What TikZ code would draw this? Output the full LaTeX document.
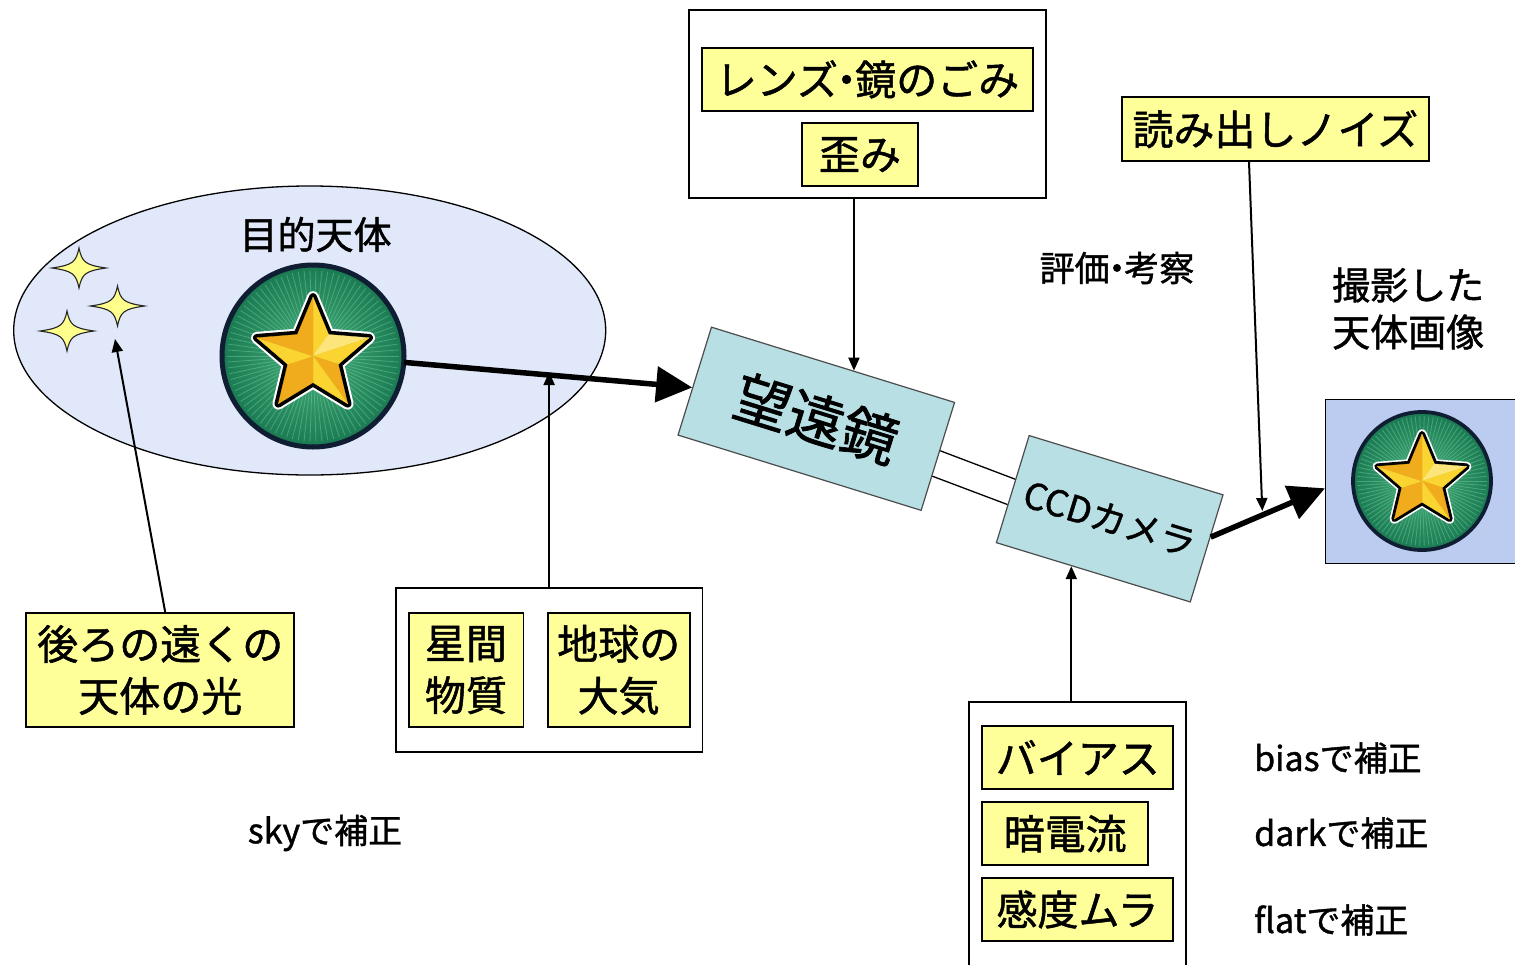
\documentclass[tikz,border=0pt]{standalone}
\usepackage{fontspec}
\setmainfont{Noto Sans CJK JP}[FakeBold=1.2]
\usetikzlibrary{arrows.meta,calc,shapes.geometric}

\definecolor{paleyellow}{RGB}{255,255,153}
\definecolor{scopecyan}{RGB}{183,223,228}
\definecolor{skyfill}{RGB}{224,232,249}
\definecolor{imgfill}{RGB}{188,203,240}
\definecolor{medLight}{RGB}{70,176,124}
\definecolor{medDark}{RGB}{26,122,82}
\definecolor{medRay}{RGB}{120,205,160}
\definecolor{medRim}{RGB}{16,30,52}
\definecolor{starA}{RGB}{250,212,48}
\definecolor{starB}{RGB}{240,172,28}
\definecolor{starC}{RGB}{252,230,124}
\definecolor{sparkle}{RGB}{255,255,140}

% narrow middle dot
\newcommand\nakaguro{\makebox[0.42em]{・}}

\tikzset{
  starshape/.style 2 args={insert path={(-90:#1) -- (-54:#2) -- (-18:#1) -- (18:#2) -- (54:#1)
      -- (90:#2) -- (126:#1) -- (162:#2) -- (198:#1) -- (234:#2) -- cycle}},
  sparkstar/.pic={
    \draw[fill=sparkle, draw=black!85, line width=1.1pt]
      (27,0) .. controls (6,3) and (3,6) .. (0,20)
      .. controls (-3,6) and (-6,3) .. (-27,0)
      .. controls (-6,-3) and (-3,-6) .. (0,-20)
      .. controls (3,-6) and (6,-3) .. cycle;
  }
}

% green medal with a bevelled gold star: centre, disc radius, star radius
\newcommand\medal[3]{%
  \begin{scope}[shift={#1}]
    \shade[inner color=medLight, outer color=medDark] (0,0) circle (#2);
    \foreach \a in {0,4,...,356}
      \draw[medRay, line width=0.8pt, opacity=0.45] (\a:{0.3*#2}) -- (\a:{0.94*#2});
    \draw[medRim, line width={0.055*#2}] (0,0) circle (#2);
    \pgfmathsetmacro\ri{0.45*#3}
    \path[draw=white, line width={0.2*#3}, line join=round, starshape={#3}{\ri}];
    \path[draw=black, line width={0.13*#3}, line join=round, starshape={#3}{\ri}];
    \foreach \k/\fc in {0/starA,1/starC,2/starA,3/starB,4/starA,5/starB,6/starB,7/starA,8/starB,9/starB}{
      \pgfmathsetmacro\aa{-90+36*\k}
      \pgfmathsetmacro\ab{-54+36*\k}
      \pgfmathsetmacro\ra{ifthenelse(mod(\k,2)==0,#3,\ri)}
      \pgfmathsetmacro\rb{ifthenelse(mod(\k,2)==0,\ri,#3)}
      \filldraw[fill=\fc, draw=\fc, line width=0.3pt, line join=round] (0,0) -- (\aa:\ra) -- (\ab:\rb) -- cycle;
    }
  \end{scope}}

\begin{document}
\begin{tikzpicture}[x=1pt, y=-1pt,
  ybox/.style={draw=black, line width=1.8pt, fill=paleyellow, inner sep=0pt, align=center,
    font=\fontsize{41pt}{52pt}\selectfont},
  plainbox/.style={draw=black, line width=1.8pt, fill=white, inner sep=0pt},
  partbox/.style={draw=black!70, line width=1.2pt, fill=scopecyan, inner sep=0pt},
  note/.style={inner sep=0pt, font=\fontsize{34pt}{40pt}\selectfont},
  title/.style={inner sep=0pt, align=left, font=\fontsize{38pt}{47pt}\selectfont},
  thinarrow/.style={line width=2pt, -{Triangle[length=13pt,width=11pt]}},
  bigarrow/.style={line width=5.5pt, -{Triangle[length=36pt,width=35pt]}},
  joint/.style={line width=1.3pt, draw=black}]
\useasboundingbox (0,0) rectangle (1515,964);

% ---- target field ----
\node[ellipse, draw=black, line width=1.3pt, fill=skyfill, minimum width=592pt,
      minimum height=289pt, inner sep=0pt] (field) at (309.7,330.5) {};
\medal{(313,356)}{91}{59}
\node[circle, minimum size=182pt, inner sep=0pt] (target) at (313,356) {};
\pic at (79,268) {sparkstar};
\pic at (117.5,306) {sparkstar};
\pic at (67,331) {sparkstar};
\node[title] (targetlbl) at (315.6,234.5) {目的天体};
\coordinate (bgstars) at (115,339);

% ---- instrument ----
\node[partbox, rotate=-17.2, minimum width=254.5pt, minimum height=113pt,
      font=\fontsize{56pt}{60pt}\selectfont] (tele) at (816.3,418.75) {望遠鏡};
\node[partbox, rotate=-17, minimum width=202.7pt, minimum height=112pt,
      font=\fontsize{36pt}{40pt}\selectfont] (ccd) at (1109.7,518.75) {CCDカメラ};
\draw[joint] ($(tele.north east)!0.447!(tele.south east)$) -- ($(ccd.north west)!0.41!(ccd.south west)$);
\draw[joint] ($(tele.north east)!0.68!(tele.south east)$) -- ($(ccd.north west)!0.644!(ccd.south west)$);

% ---- result image ----
\node[draw=black, line width=1.5pt, fill=imgfill, minimum width=209.3pt, minimum height=164pt,
      inner sep=0pt] (img) at (1430.35,481.3) {};
\medal{(1422,481)}{69}{47}
\node[title, anchor=west] (resultlbl) at (1332,308.5) {撮影した\\天体画像};
\node[note, font=\fontsize{35pt}{40pt}\selectfont] (evallbl) at (1117,268) {評価\nakaguro 考察};

% ---- light path ----
\coordinate (telein) at ($(tele.north west)!0.56!(tele.south west)$);
\draw[bigarrow] (target.-4) -- (telein);
\coordinate (ccdout) at ($(ccd.north east)!0.394!(ccd.south east)$);
\draw[bigarrow] (ccdout) -- ([yshift=-7pt]img.west);

% ---- far background sources ----
\node[ybox, minimum width=268.1pt, minimum height=113.4pt] (far) at (160.25,670) {後ろの遠くの\\天体の光};
\draw[thinarrow] ([xshift=5pt]far.north) -- (bgstars);

% ---- absorption on the way ----
\node[plainbox, minimum width=306.7pt, minimum height=163.4pt] (medium) at (549.15,670) {};
\node[ybox, minimum width=114.8pt, minimum height=113.4pt] (ism) at (466,670) {星間\\物質};
\node[ybox, minimum width=141.9pt, minimum height=113.7pt] (atm) at (618.65,669.85) {地球の\\大気};
\coordinate (gasline) at (549.15,372);
\draw[thinarrow] (medium.north) -- (gasline);
\node[note] (skyfix) at (325,833) {skyで補正};

% ---- optics ----
\node[plainbox, minimum width=356.7pt, minimum height=188.3pt] (optics) at (867.35,104.15) {};
\node[ybox, minimum width=331.6pt, minimum height=63.3pt] (dust) at (867.5,79.35) {レンズ\nakaguro 鏡のごみ};
\node[ybox, minimum width=115.4pt, minimum height=62.7pt] (distort) at (860,154.65) {歪み};
\coordinate (lensin) at ($(tele.north west)!0.585!(tele.north east)$);
\draw[thinarrow] (lensin |- optics.south) -- (lensin);

% ---- readout ----
\node[ybox, minimum width=307.3pt, minimum height=63.7pt] (noise) at (1275.35,129.15) {読み出しノイズ};
\coordinate (readpt) at (1262.3,511);
\draw[thinarrow] ([xshift=-26.35pt]noise.south) -- (readpt);

% ---- detector effects ----
\node[plainbox, minimum width=217pt, minimum height=288.3pt] (det) at (1077.5,845.85) {};
\node[ybox, minimum width=191pt, minimum height=63.3pt] (bias) at (1077.8,757.65) {バイアス};
\node[ybox, minimum width=166.3pt, minimum height=62.7pt] (dark) at (1065.15,833.65) {暗電流};
\node[ybox, minimum width=191pt, minimum height=62.4pt] (flat) at (1077.5,909.5) {感度ムラ};
\coordinate (ccdin) at ($(ccd.south west)!0.388!(ccd.south east)$);
\draw[thinarrow] (ccdin |- det.north) -- (ccdin);
\node[note, anchor=west] (biasfix) at (1254,758) {biasで補正};
\node[note, anchor=west] (darkfix) at (1254,833) {darkで補正};
\node[note, anchor=west] (flatfix) at (1254,920) {flatで補正};
\end{tikzpicture}
\end{document}
